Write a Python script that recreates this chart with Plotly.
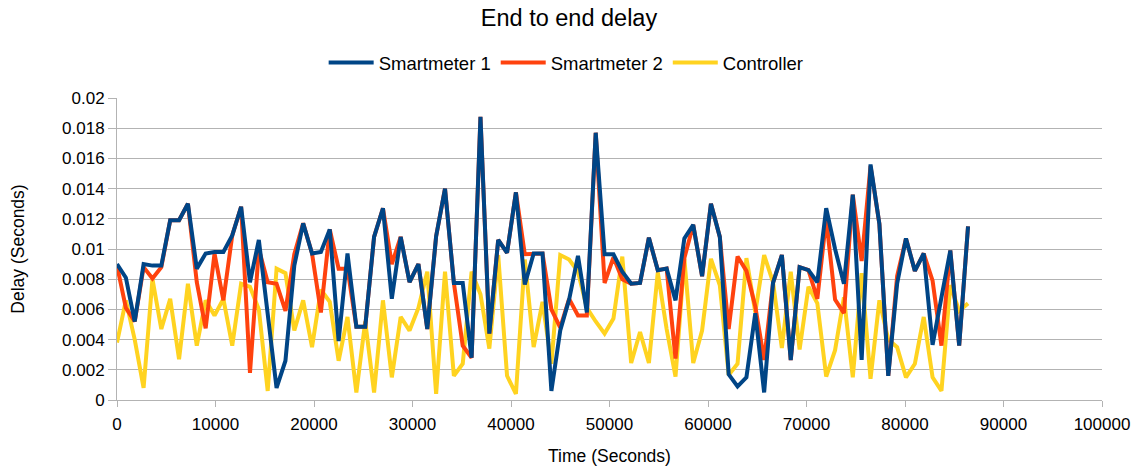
import plotly.graph_objects as go

# Sample times: one measurement every 900 s over a day
time_s = list(range(0, 86401, 900))

smartmeter_1 = [
    0.0090, 0.0081, 0.0052, 0.0090, 0.0089, 0.0089, 0.0119, 0.0119, 0.0130, 0.0087,
    0.0097, 0.0098, 0.0098, 0.0109, 0.0128, 0.0078, 0.0106, 0.0057, 0.0008, 0.0026,
    0.0089, 0.0117, 0.0097, 0.0098, 0.0113, 0.0039, 0.0097, 0.00485, 0.00485, 0.0108,
    0.0127, 0.0067, 0.0108, 0.0078, 0.0090, 0.0047, 0.01085, 0.0140, 0.00775, 0.00775,
    0.0028, 0.01875, 0.0044, 0.0106, 0.00975, 0.01375, 0.00765, 0.0097, 0.0097, 0.0006,
    0.0046, 0.00665, 0.00955, 0.0058, 0.0177, 0.00965, 0.00965, 0.0085, 0.0077, 0.00775,
    0.01075, 0.0086, 0.0087, 0.0066, 0.0107, 0.0116, 0.0082, 0.0130, 0.0108, 0.0017,
    0.0009, 0.0015, 0.00575, 0.0005, 0.00775, 0.0096, 0.00265, 0.0088, 0.0086, 0.0078,
    0.0127, 0.0100, 0.0077, 0.0136, 0.00265, 0.0156, 0.01165, 0.0016, 0.0077, 0.0107,
    0.00855, 0.0097, 0.00365, 0.0068, 0.0099, 0.0036, 0.0115,
]

smartmeter_2 = [
    0.0089, 0.0061, 0.0052, 0.0088, 0.00805, 0.0088, 0.0119, 0.0119, 0.0130, 0.0078,
    0.00475, 0.0097, 0.0066, 0.0109, 0.0128, 0.0018, 0.0100, 0.0078, 0.0077, 0.0059,
    0.00965, 0.0117, 0.0097, 0.0058, 0.0113, 0.0087, 0.0087, 0.00485, 0.00485, 0.0108,
    0.0127, 0.0090, 0.0108, 0.0078, 0.0090, 0.0047, 0.01085, 0.0140, 0.00775, 0.0036,
    0.0028, 0.01875, 0.0044, 0.0106, 0.00975, 0.01375, 0.00965, 0.0097, 0.0097, 0.0060,
    0.0048, 0.0067, 0.0056, 0.0056, 0.0177, 0.00775, 0.00945, 0.0080, 0.0077, 0.00775,
    0.01075, 0.0086, 0.0087, 0.00275, 0.0094, 0.0116, 0.0082, 0.0130, 0.0108, 0.0047,
    0.0095, 0.00855, 0.0062, 0.00265, 0.00775, 0.0096, 0.00265, 0.0088, 0.0086, 0.0067,
    0.0120, 0.00665, 0.00575, 0.0136, 0.0092, 0.0155, 0.01165, 0.0016, 0.0082, 0.0107,
    0.00855, 0.0097, 0.0079, 0.0036, 0.0099, 0.0036, 0.0115,
]

controller = [
    0.0038, 0.0066, 0.0040, 0.0008, 0.0080, 0.0047, 0.0067, 0.0027, 0.0077, 0.0036,
    0.0066, 0.0056, 0.0067, 0.0036, 0.0077, 0.0075, 0.0060, 0.0006, 0.0087, 0.0084,
    0.0046, 0.0066, 0.0035, 0.0073, 0.0065, 0.0026, 0.0055, 0.0005, 0.0052, 0.0005,
    0.0066, 0.0015, 0.0055, 0.0046, 0.0061, 0.0085, 0.0004, 0.0085, 0.0016, 0.0024,
    0.0085, 0.0070, 0.0034, 0.0096, 0.0016, 0.0004, 0.0093, 0.0035, 0.0065, 0.0024,
    0.0096, 0.0093, 0.0085, 0.0061, 0.0052, 0.0044, 0.0054, 0.0095, 0.00245, 0.0045,
    0.00245, 0.00845, 0.0047, 0.00155, 0.00935, 0.00245, 0.0046, 0.00935, 0.0076, 0.00165,
    0.0024, 0.0094, 0.0058, 0.0096, 0.0078, 0.00345, 0.0085, 0.00335, 0.0075, 0.0064,
    0.00155, 0.0033, 0.0068, 0.0015, 0.0084, 0.0014, 0.0066, 0.0040, 0.0035, 0.0015,
    0.0024, 0.0055, 0.0015, 0.0006, 0.0076, 0.0059, 0.0064,
]

series = [
    ("Smartmeter 1", smartmeter_1, "#004586"),
    ("Smartmeter 2", smartmeter_2, "#ff420e"),
    ("Controller", controller, "#ffd320"),
]

x_tick_vals = [0, 10000, 20000, 30000, 40000, 50000, 60000, 70000, 80000, 90000, 100000]
x_tick_text = ["0", "10000", "20000", "30000", "40000", "50000", "60000", "70000",
               "80000", "90000", "100000"]
y_tick_vals = [0, 0.002, 0.004, 0.006, 0.008, 0.01, 0.012, 0.014, 0.016, 0.018, 0.02]
y_tick_text = ["0", "0.002", "0.004", "0.006", "0.008", "0.01", "0.012", "0.014",
               "0.016", "0.018", "0.02"]

GRID = "#b3b3b3"
FONT = "Liberation Sans, Arial, sans-serif"

fig = go.Figure()
# Draw in reverse so the first series sits on top
for name, values, color in reversed(series):
    fig.add_trace(go.Scatter(
        x=time_s, y=values, name=name, mode="lines",
        line=dict(color=color, width=4),
    ))

fig.update_layout(
    width=1138, height=468,
    margin=dict(l=117, r=36, t=98, b=68, autoexpand=False),
    paper_bgcolor="white", plot_bgcolor="white",
    font=dict(family=FONT, size=17, color="#000000"),
    title=dict(text="End to end delay", x=0.5, xanchor="center",
               y=1 - 18 / 468, yanchor="middle",
               font=dict(size=23.5, color="#000000")),
    legend=dict(orientation="h", x=0.456, xanchor="center",
                y=1 + (98 - 63) / 302, yanchor="middle",
                traceorder="reversed", font=dict(size=18.5),
                itemwidth=45),
    showlegend=True,
)

fig.update_xaxes(
    range=[0, 100000], tickvals=x_tick_vals, ticktext=x_tick_text,
    showgrid=False, showline=True, linecolor=GRID, linewidth=1,
    ticks="outside", ticklen=6, tickcolor=GRID, tickangle=0,
    ticklabelstandoff=3,
    title=dict(text="Time (Seconds)", standoff=16, font=dict(size=17.5)),
    zeroline=False, automargin=False,
)
fig.update_yaxes(
    range=[0, 0.02], tickvals=y_tick_vals, ticktext=y_tick_text,
    showgrid=True, gridcolor=GRID, gridwidth=1,
    showline=True, linecolor=GRID, linewidth=1,
    ticks="outside", ticklen=8, tickcolor=GRID,
    title=dict(text="Delay (Seconds)", standoff=32, font=dict(size=17.5)),
    zeroline=False, automargin=False,
)

fig.write_html("out.html")
